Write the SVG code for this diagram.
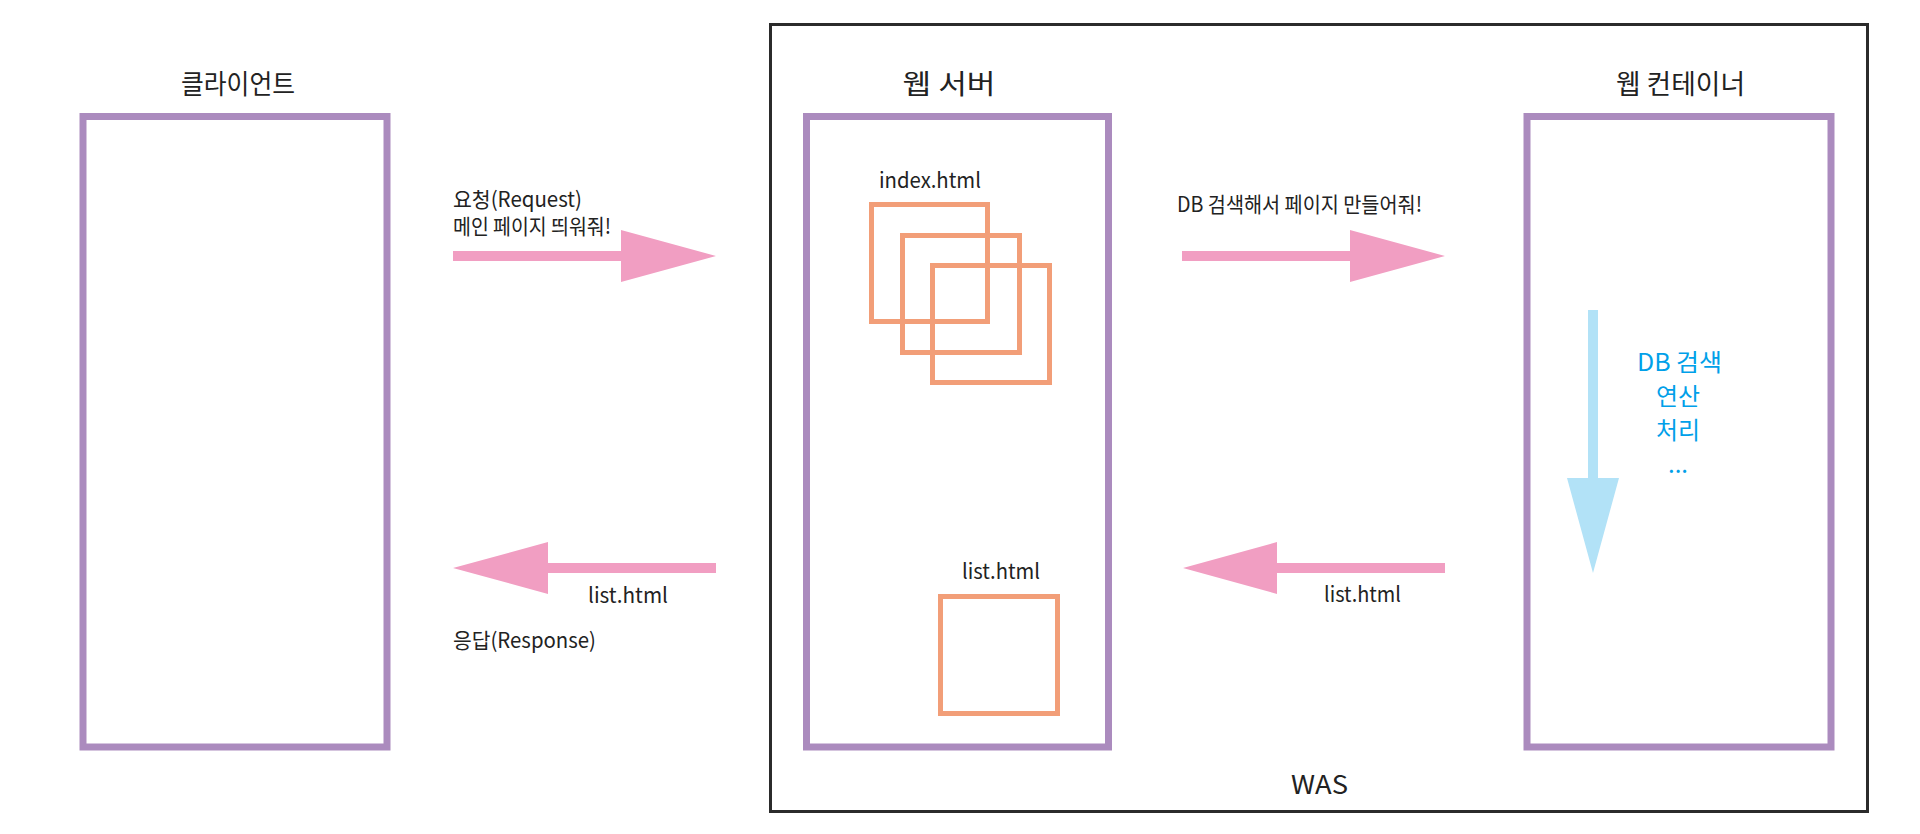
<svg xmlns="http://www.w3.org/2000/svg" width="1920" height="834" viewBox="0 0 1920 834">
<style>
.box{fill:none;stroke:#AB8BBE;stroke-width:7}
.page{fill:none;stroke:#F29E78;stroke-width:5}
.was{fill:none;stroke:#2B2B2B;stroke-width:3}
.t{font-family:"Noto Sans CJK KR","Noto Sans",sans-serif;fill:#222222}
.title{font-size:27px;text-anchor:middle}
.lbl{font-size:21px}
.blue{font-family:"Noto Sans CJK KR","Noto Sans",sans-serif;fill:#00A0E9;font-size:24px;text-anchor:middle}
.pink{fill:#F19EC2}
.sky{fill:#B2E2F7}
</style>
<rect width="1920" height="834" fill="#FFFFFF"/>
<g id="was">
<rect class="was" x="770.5" y="24.5" width="1097" height="787"/>
<text class="t" x="1319.5" y="794" font-size="26" text-anchor="middle" textLength="57" lengthAdjust="spacingAndGlyphs">WAS</text>
</g>
<g id="client">
<text class="t title" x="238" y="94" textLength="114" lengthAdjust="spacingAndGlyphs">클라이언트</text>
<rect class="box" x="83" y="116.5" width="304" height="630.5"/>
</g>
<g id="web-server">
<text class="t title" x="949" y="94" textLength="93" lengthAdjust="spacingAndGlyphs">웹 서버</text>
<rect class="box" x="806.5" y="116.5" width="302" height="630.5"/>
<g id="index-pages">
<text class="t lbl" x="879" y="188" textLength="102" lengthAdjust="spacingAndGlyphs">index.html</text>
<rect class="page" x="871.5" y="204.5" width="116" height="117"/>
<rect class="page" x="902.5" y="235.5" width="117" height="117"/>
<rect class="page" x="932.5" y="265.5" width="117" height="117"/>
</g>
<g id="list-page">
<text class="t lbl" x="962" y="579" textLength="78" lengthAdjust="spacingAndGlyphs">list.html</text>
<rect class="page" x="940.5" y="596.5" width="117" height="117"/>
</g>
</g>
<g id="web-container">
<text class="t title" x="1680.5" y="94" textLength="129" lengthAdjust="spacingAndGlyphs">웹 컨테이너</text>
<rect class="box" x="1527" y="116.5" width="304" height="630.5"/>
<text class="blue" x="1679.5" y="371" textLength="85" lengthAdjust="spacingAndGlyphs">DB 검색</text>
<text class="blue" x="1678" y="405" textLength="44" lengthAdjust="spacingAndGlyphs">연산</text>
<text class="blue" x="1678" y="439" textLength="44" lengthAdjust="spacingAndGlyphs">처리</text>
<text class="blue" x="1678" y="473">...</text>
</g>
<g id="connectors">
<polygon class="pink" points="453,251 621,251 621,230 716,256 621,282 621,261 453,261"/>
<polygon class="pink" points="1182,251 1350,251 1350,230 1445,256 1350,282 1350,261 1182,261"/>
<polygon class="pink" points="453,568 548,542 548,563 716,563 716,573 548,573 548,594"/>
<polygon class="pink" points="1183,568 1277,542 1277,563 1445,563 1445,573 1277,573 1277,594"/>
<polygon class="sky" points="1588,310 1598,310 1598,478 1619,478 1593,573 1567,478 1588,478"/>
<text class="t lbl" x="453" y="207" textLength="129" lengthAdjust="spacingAndGlyphs">요청(Request)</text>
<text class="t lbl" x="453" y="234" textLength="158" lengthAdjust="spacingAndGlyphs">메인 페이지 띄워줘!</text>
<text class="t lbl" x="1177" y="212" textLength="245" lengthAdjust="spacingAndGlyphs">DB 검색해서 페이지 만들어줘!</text>
<text class="t lbl" x="588" y="603" textLength="80" lengthAdjust="spacingAndGlyphs">list.html</text>
<text class="t lbl" x="453" y="648" textLength="143" lengthAdjust="spacingAndGlyphs">응답(Response)</text>
<text class="t lbl" x="1324" y="602" textLength="77" lengthAdjust="spacingAndGlyphs">list.html</text>
</g>
</svg>
